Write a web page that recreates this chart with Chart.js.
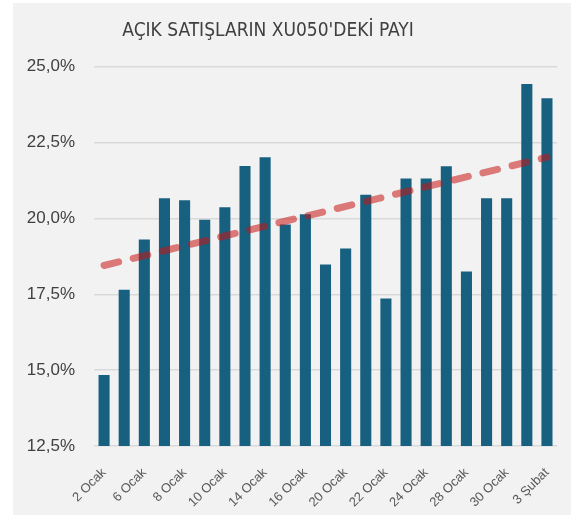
<!DOCTYPE html>
<html>
<head>
<meta charset="utf-8">
<script src="https://cdn.jsdelivr.net/npm/chart.js@4/dist/chart.umd.min.js"></script>
<style>
  html, body { margin: 0; padding: 0; background: #ffffff; width: 574px; height: 515px; overflow: hidden; }
  #panel { position: absolute; left: 13px; top: 3px; width: 558px; height: 512px; background: #f2f2f2; }
  #c { position: absolute; left: -33px; top: 0px; }
</style>
</head>
<body>
<div id="panel"></div>
<canvas id="c" width="602" height="515"></canvas>
<script>
const categories = ["2 Ocak","3 Ocak","6 Ocak","7 Ocak","8 Ocak","9 Ocak","10 Ocak","13 Ocak","14 Ocak","15 Ocak","16 Ocak","17 Ocak","20 Ocak","21 Ocak","22 Ocak","23 Ocak","24 Ocak","27 Ocak","28 Ocak","29 Ocak","30 Ocak","31 Ocak","3 Şubat"];
const shareValues = [14.84, 17.65, 19.31, 20.67, 20.60, 19.96, 20.37, 21.73, 22.02, 19.80, 20.14, 18.48, 19.01, 20.78, 17.36, 21.32, 21.32, 21.72, 18.25, 20.67, 20.67, 24.43, 23.96];
const trendValues = [18.45, null, null, null, null, null, null, null, null, null, null, null, null, null, null, null, null, null, null, null, null, null, 22.02];
const yTicks = [12.5, 15.0, 17.5, 20.0, 22.5, 25.0];
const titleText = "AÇIK SATIŞLARIN XU050'DEKİ PAYI";

new Chart(document.getElementById('c'), {
  type: 'bar',
  data: {
    labels: categories,
    datasets: [
      {
        type: 'line',
        data: trendValues,
        spanGaps: true,
        borderColor: 'rgba(200,20,20,0.55)',
        borderWidth: 7,
        borderDash: [15, 15],
        borderCapStyle: 'round',
        pointRadius: 0,
        fill: false,
        order: 0
      },
      {
        type: 'bar',
        data: shareValues,
        backgroundColor: '#17607f',
        categoryPercentage: 1.0,
        barPercentage: 0.55,
        order: 1
      }
    ]
  },
  options: {
    responsive: false,
    animation: false,
    layout: { padding: { left: 0, right: 0, top: 0, bottom: 0 } },
    plugins: {
      legend: { display: false },
      tooltip: { enabled: false },
      title: {
        display: true,
        text: titleText,
        color: '#404040',
        font: { family: "'Liberation Sans Narrow', 'DejaVu Sans Condensed', sans-serif", size: 19, weight: 'normal' },
        padding: { top: 20, bottom: 24 }
      }
    },
    scales: {
      x: {
        grid: { display: false },
        border: { display: false },
        ticks: {
          autoSkip: false,
          minRotation: 45,
          maxRotation: 45,
          color: '#595959',
          padding: 11,
          font: { family: "'Liberation Sans', Arial, sans-serif", size: 13 },
          callback: function(v, i) { return i % 2 === 0 ? categories[i] : ''; }
        },
        afterFit: function(s) { s.height = 69; }
      },
      y: {
        min: 12.5,
        max: 25,
        afterBuildTicks: function(s) { s.ticks = yTicks.map(v => ({ value: v })); },
        grid: { color: '#d9d9d9', lineWidth: 1.5, drawTicks: false },
        border: { display: false },
        ticks: {
          color: '#404040',
          padding: 19,
          font: { family: "'Liberation Sans', Arial, sans-serif", size: 17 },
          callback: function(v) { return v.toFixed(1).replace('.', ',') + '%'; }
        },
        afterFit: function(s) { s.width = 127; }
      }
    }
  }
});
</script>
</body>
</html>
